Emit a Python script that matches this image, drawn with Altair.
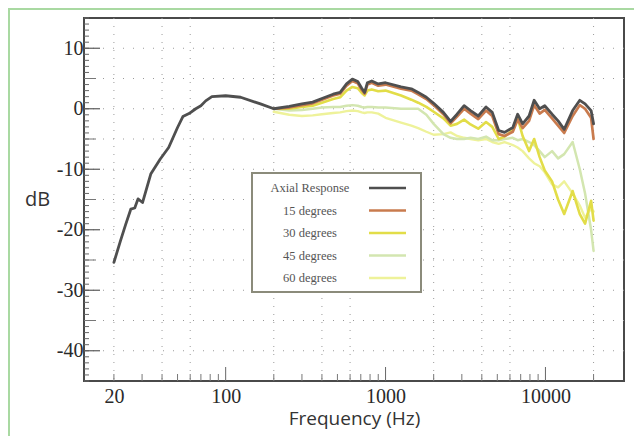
import altair as alt
import pandas as pd

# ---------------- data ----------------
series = ["Axial Response", "15 degrees", "30 degrees", "45 degrees", "60 degrees"]
colors = ["#4f4f4f", "#c97b4e", "#e2dd48", "#d3e6b0", "#eef29a"]
widths = [2.8, 2.4, 2.2, 2.0, 2.2]

# axial response below 200 Hz (only the axial curve is drawn there)
axial_lo_freq = [20, 22, 23.7, 25.5, 27, 28.3, 30.2, 34, 39, 44, 50, 54, 59, 65, 70, 75, 82, 100, 124, 165]
axial_lo_db = [-25.4, -21.8, -19.1, -16.6, -16.4, -14.9, -15.5, -10.8, -8.3, -6.4, -3.1, -1.3, -0.8, 0.0, 0.5, 1.3, 2.0, 2.15, 1.9, 0.8]

freq_hi = [200, 250, 300, 350, 400, 470, 520, 570, 620, 670, 710, 740, 770, 820, 900, 1000,
           1250, 1450, 1600, 1800, 2000, 2300, 2550, 2800, 3100, 3400, 3800, 4250, 4650, 5100,
           5550, 6250, 6700, 7200, 7900, 8500, 9200, 9900, 11000, 12000, 13100, 14800, 16400,
           17700, 19300, 20000]

axial_db = [0.0, 0.4, 0.8, 1.1, 1.7, 2.4, 2.7, 4.1, 4.9, 4.5, 3.4, 2.7, 4.3, 4.6, 4.1, 4.3,
            3.6, 3.3, 2.7, 1.9, 0.9, -0.6, -2.1, -0.9, 0.5, -0.3, -1.2, 0.3, -0.6, -3.6,
            -3.9, -3.1, -0.9, -2.5, -1.2, 1.4, 0.0, 0.5, -0.9, -2.0, -3.4, -0.3, 1.4,
            0.8, -0.3, -2.5]
deg15_db = [0.0, 0.2, 0.6, 0.9, 1.5, 2.2, 2.5, 3.8, 4.6, 4.2, 3.1, 2.5, 4.0, 4.3, 3.8, 4.0,
            3.3, 3.0, 2.4, 1.6, 0.6, -0.9, -2.4, -1.3, 0.0, -0.8, -1.7, -0.3, -1.2, -4.2,
            -4.5, -3.8, -1.8, -3.2, -2.0, 0.6, -0.8, -0.2, -1.6, -2.8, -4.0, -1.2, 0.6,
            0.0, -1.5, -5.0]
deg30_db = [0.0, 0.0, 0.3, 0.5, 1.0, 1.6, 1.9, 3.0, 3.6, 3.4, 2.6, 2.2, 3.0, 3.2, 2.9, 3.0,
            2.2, 1.5, 1.0, 0.3, -0.5, -1.6, -2.8, -2.5, -1.8, -2.6, -3.3, -2.2, -3.0, -5.0,
            -4.6, -3.5, -1.5, -4.5, -7.0, -5.0, -8.0, -10.2, -12.0, -15.0, -17.4, -13.6, -17.4,
            -19.0, -15.2, -18.5]
deg45_db = [0.0, -0.3, -0.2, 0.0, 0.2, 0.3, 0.3, 0.5, 0.6, 0.5, 0.3, 0.2, 0.3, 0.3, 0.2, 0.2,
            0.0, 0.0, 0.0, -1.0, -2.5, -4.2, -4.8, -5.0, -5.0, -4.8, -5.0, -4.6, -5.2, -5.2,
            -5.0, -4.8, -5.2, -5.0, -5.5, -6.0, -7.0, -8.0, -7.0, -8.2, -7.5, -5.5, -10.0,
            -14.0, -20.0, -23.5]
deg60_db = [-0.5, -1.0, -1.2, -1.1, -0.9, -0.7, -0.6, -0.4, -0.3, -0.4, -0.6, -0.7, -0.6, -0.6, -0.8, -1.5,
            -2.3, -2.8, -3.2, -3.8, -4.3, -4.2, -3.9, -4.5, -4.8, -5.0, -5.2, -5.0, -5.5, -5.8,
            -5.5, -6.0, -6.4, -7.0, -8.2, -9.0, -9.5, -10.5, -12.5, -13.0, -12.0, -14.0, -16.0,
            -18.0, -16.5, -17.0]

y_label_values = [10, 0, -10, -20, -30, -40]
y_half_values = [5, -5, -15, -25, -35]
y_minor_values = list(range(-45, 16))
y_grid_values = [10, 5, 0, -5, -10, -15, -20, -25, -30, -35, -40]
x_label_values = [20, 100, 1000, 10000]
x_major_ticks = [100, 1000, 10000]
x_minor_ticks = [20, 30, 40, 50, 60, 70, 80, 90, 200, 300, 400, 500, 600, 700, 800, 900,
                 2000, 3000, 4000, 5000, 6000, 7000, 8000, 9000, 20000]
x_grid_values = [20, 40, 60, 200, 400, 600, 2000, 4000, 6000, 20000]

# ---------------- tables ----------------
rows = []
draw_order = ["60 degrees", "45 degrees", "30 degrees", "15 degrees", "Axial Response"]
curves = {
    "Axial Response": (axial_lo_freq + freq_hi, axial_lo_db + axial_db),
    "15 degrees": (freq_hi, deg15_db),
    "30 degrees": (freq_hi, deg30_db),
    "45 degrees": (freq_hi, deg45_db),
    "60 degrees": (freq_hi, deg60_db),
}
for s in draw_order:
    fs, vs = curves[s]
    for i, (f, v) in enumerate(zip(fs, vs)):
        rows.append({"series": s, "freq": f, "db": v, "idx": i})
df = pd.DataFrame(rows)
legend_df = pd.DataFrame({"series": series})
one = pd.DataFrame({"k": [0]})

W, H = 540, 363
XDOM = [13, 31000]
YDOM = [-45, 15]
xscale = alt.Scale(type="log", domain=XDOM, nice=False)
yscale = alt.Scale(domain=YDOM, nice=False, zero=False)
cscale = alt.Scale(domain=series, range=colors)
wscale = alt.Scale(domain=series, range=widths)

SERIF = "Liberation Serif"
SANS = "Open Sans"

xaxis = alt.Axis(values=x_label_values, title="Frequency (Hz)", grid=False, ticks=False,
                 domain=False, labelFont=SERIF, labelFontSize=20, labelColor="#2a2a2a",
                 labelPadding=5, labelFlush=False, format="d",
                 titleFont=SANS, titleFontSize=19, titleFontWeight="normal",
                 titleColor="#333333", titlePadding=3)
yaxis = alt.Axis(values=y_label_values, title="dB", grid=False, ticks=False, domain=False,
                 labelFont=SERIF, labelFontSize=20, labelColor="#2a2a2a", labelPadding=1,
                 labelExpr="replace(datum.label, '\u2212', '-')",
                 titleFont=SANS, titleFontSize=20, titleFontWeight="normal",
                 titleColor="#333333", titleAngle=0, titleX=-47, titleY=181,
                 titleAlign="center", titleBaseline="middle")

# grid
vgrid = alt.Chart(pd.DataFrame({"freq": x_grid_values})).mark_rule(
    color="#9a9a9a", strokeWidth=1, strokeDash=[1, 7]
).encode(x=alt.X("freq:Q", scale=xscale, axis=xaxis))
hgrid = alt.Chart(pd.DataFrame({"v": y_grid_values})).mark_rule(
    color="#9a9a9a", strokeWidth=1, strokeDash=[1, 9]
).encode(y=alt.Y("v:Q", scale=yscale, axis=None))

lines = alt.Chart(df).mark_line(strokeJoin="round", strokeCap="round").encode(
    x=alt.X("freq:Q", scale=xscale, axis=xaxis),
    y=alt.Y("db:Q", scale=yscale, axis=yaxis),
    color=alt.Color("series:N", scale=cscale, legend=None),
    strokeWidth=alt.StrokeWidth("series:N", scale=wscale, legend=None),
    detail="series:N",
    order="idx:Q",
)

# inward ticks
ymajor = alt.Chart(pd.DataFrame({"v": y_label_values})).mark_rule(color="#5a5a5a", strokeWidth=1.2).encode(
    y=alt.Y("v:Q", scale=yscale, axis=None), x=alt.value(0), x2=alt.value(16))
yhalf = alt.Chart(pd.DataFrame({"v": y_half_values})).mark_rule(color="#777777", strokeWidth=1).encode(
    y=alt.Y("v:Q", scale=yscale, axis=None), x=alt.value(0), x2=alt.value(12))
yminor = alt.Chart(pd.DataFrame({"v": y_minor_values})).mark_rule(color="#666666", strokeWidth=1).encode(
    y=alt.Y("v:Q", scale=yscale, axis=None), x=alt.value(0), x2=alt.value(5))
xmajor = alt.Chart(pd.DataFrame({"freq": x_major_ticks})).mark_rule(color="#666666", strokeWidth=1).encode(
    x=alt.X("freq:Q", scale=xscale, axis=xaxis), y=alt.value(H), y2=alt.value(H - 14))
xminor = alt.Chart(pd.DataFrame({"freq": x_minor_ticks})).mark_rule(color="#777777", strokeWidth=1).encode(
    x=alt.X("freq:Q", scale=xscale, axis=xaxis), y=alt.value(H), y2=alt.value(H - 7))

# legend (drawn inside the plot)
rowscale = alt.Scale(type="point", range=[170, 260], padding=0)
legbox = alt.Chart(one).mark_rect(fill="white", stroke="#8b8b7b", strokeWidth=2).encode(
    x=alt.value(168), x2=alt.value(337), y=alt.value(155), y2=alt.value(274))
legrules = alt.Chart(legend_df).mark_rule(strokeWidth=2.5).encode(
    x=alt.value(285), x2=alt.value(322),
    y=alt.Y("series:N", sort=series, scale=rowscale, axis=None),
    color=alt.Color("series:N", scale=cscale, legend=None))
legtext = alt.Chart(legend_df).mark_text(font=SERIF, fontSize=12.5, color="#555555",
                                          align="center", baseline="middle").encode(
    x=alt.value(226),
    y=alt.Y("series:N", sort=series, scale=rowscale, axis=None),
    text="series:N")

# light green outer border
border = alt.Chart(one).mark_rect(fillOpacity=0, stroke="#a9d9a2", strokeWidth=2).encode(
    x=alt.value(-75), x2=alt.value(600), y=alt.value(-9), y2=alt.value(440))

chart = alt.layer(
    border, vgrid, hgrid, yminor, yhalf, ymajor, xminor, xmajor, lines, legbox, legrules, legtext
).resolve_scale(y="independent").properties(
    width=W, height=H, autosize="none",
    padding={"left": 76, "top": 10, "right": 10, "bottom": 55},
    background="white",
).configure_view(stroke="#4a4a4a", strokeWidth=2).configure_axis(
    labelFont=SERIF, titleFont=SANS
)

chart.save("out.html", embed_options={"renderer": "svg", "actions": False})
